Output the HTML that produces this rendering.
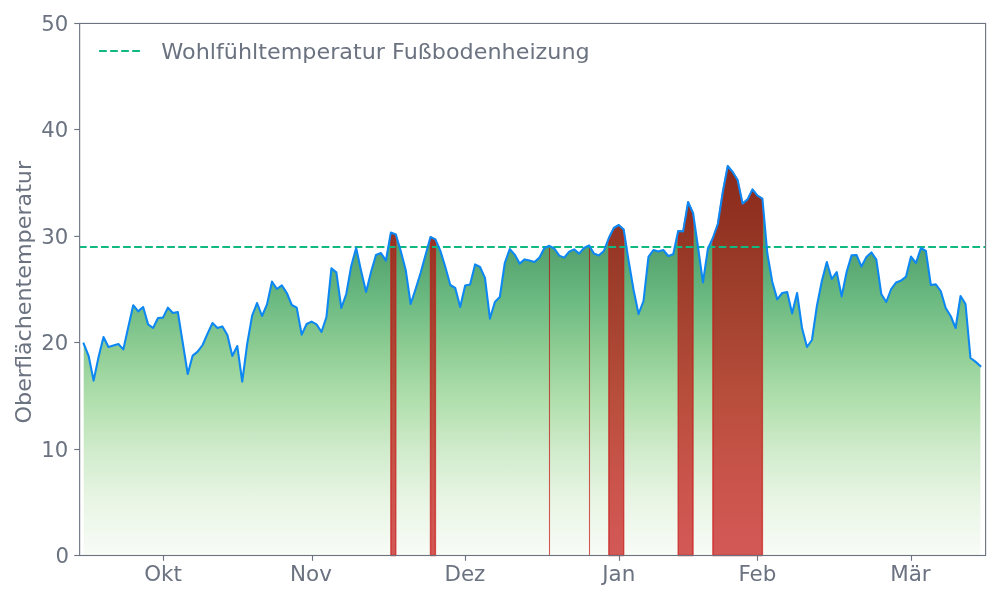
<!DOCTYPE html>
<html lang="de"><head><meta charset="utf-8"><title>Oberflächentemperatur</title>
<style>
html,body{margin:0;padding:0;background:#fff;}
svg{display:block;font-family:"DejaVu Sans","Liberation Sans",sans-serif;font-size:22.22px;fill:#6b7280;}
</style></head><body>
<svg width="1000" height="600" viewBox="0 0 1000 600">
<defs>
<linearGradient id="gg" gradientUnits="userSpaceOnUse" x1="0" y1="555.5" x2="0" y2="23.45">
<stop offset="0.0006" stop-color="#f7fcf5"/>
<stop offset="0.0141" stop-color="#f6fbf5"/>
<stop offset="0.1043" stop-color="#e8f5e4"/>
<stop offset="0.1983" stop-color="#d0ebcc"/>
<stop offset="0.2923" stop-color="#b0dfad"/>
<stop offset="0.3862" stop-color="#8fcd94"/>
<stop offset="0.4802" stop-color="#6bba82"/>
<stop offset="0.5479" stop-color="#5aa873"/>
<stop offset="0.6118" stop-color="#4e9868"/>
<stop offset="0.7321" stop-color="#3e845c"/>
<stop offset="1.0000" stop-color="#286446"/>
</linearGradient>
<linearGradient id="rg" gradientUnits="userSpaceOnUse" x1="0" y1="555.5" x2="0" y2="23.45">
<stop offset="0.0006" stop-color="#d35956"/>
<stop offset="0.0141" stop-color="#d25855"/>
<stop offset="0.1419" stop-color="#ca544b"/>
<stop offset="0.2923" stop-color="#b94e3c"/>
<stop offset="0.4802" stop-color="#a0402d"/>
<stop offset="0.6494" stop-color="#903020"/>
<stop offset="0.7321" stop-color="#892b1d"/>
<stop offset="1.0000" stop-color="#781e14"/>
</linearGradient>
</defs>
<rect width="1000" height="600" fill="#fff"/>
<polygon points="83.70,555.5 83.70,343.70 88.65,356.00 93.61,380.60 98.56,357.00 103.52,337.00 108.47,347.00 113.42,345.40 118.38,344.00 123.33,349.40 128.29,327.00 133.24,305.20 138.19,311.40 143.15,307.00 148.10,324.40 153.06,328.00 158.01,318.00 162.96,317.60 167.92,307.60 172.87,313.00 177.83,312.00 182.78,343.00 187.73,374.00 192.69,355.60 197.64,351.60 202.60,345.00 207.55,333.60 212.50,323.00 217.46,328.00 222.41,326.40 227.37,335.00 232.32,356.00 237.27,346.00 242.23,381.60 247.18,344.00 252.14,315.60 257.09,303.00 262.04,316.00 267.00,304.40 271.95,281.60 276.91,289.00 281.86,285.40 286.81,293.00 291.77,305.00 296.72,307.60 301.68,334.60 306.63,324.00 311.58,321.60 316.54,324.40 321.49,332.00 326.45,317.00 331.40,268.40 336.35,272.40 341.31,308.00 346.26,294.00 351.22,266.00 356.17,248.00 361.12,271.00 366.08,292.00 371.03,272.00 375.99,255.00 380.94,253.00 385.89,260.60 390.85,232.60 395.80,234.40 400.76,251.00 405.71,270.00 410.66,304.00 415.62,289.00 420.57,273.00 425.53,255.00 430.48,237.00 435.43,239.40 440.39,250.80 445.34,267.00 450.30,285.00 455.25,288.00 460.20,307.00 465.16,285.40 470.11,284.40 475.07,264.40 480.02,267.00 484.97,278.00 489.93,318.60 494.88,302.00 499.84,297.00 504.79,263.00 509.74,249.00 514.70,254.60 519.65,263.60 524.61,259.40 529.56,260.60 534.51,262.00 539.47,257.60 544.42,248.00 549.38,245.80 554.33,248.60 559.28,255.60 564.24,257.60 569.19,251.60 574.15,249.40 579.10,253.60 584.05,248.00 589.01,245.40 593.96,253.60 598.92,255.40 603.87,251.00 608.82,238.00 613.78,228.00 618.73,225.00 623.69,229.50 628.64,261.00 633.59,290.00 638.55,314.00 643.50,301.00 648.46,256.80 653.41,250.00 658.36,251.60 663.32,250.00 668.27,256.00 673.23,254.20 678.18,231.00 683.13,231.40 688.09,202.00 693.04,213.00 698.00,247.00 702.95,282.40 707.90,248.70 712.86,238.00 717.81,224.00 722.77,192.00 727.72,166.00 732.67,172.00 737.63,180.00 742.58,203.60 747.54,199.40 752.49,189.40 757.44,195.60 762.40,198.60 767.35,253.50 772.31,282.00 777.26,299.40 782.21,293.00 787.17,292.00 792.12,313.40 797.08,293.00 802.03,328.00 806.98,347.00 811.94,340.00 816.89,306.00 821.85,281.00 826.80,262.00 831.75,279.00 836.71,272.00 841.66,296.40 846.62,272.00 851.57,255.40 856.52,255.00 861.48,266.60 866.43,257.00 871.39,252.40 876.34,259.60 881.29,294.00 886.25,302.00 891.20,289.00 896.16,282.40 901.11,280.60 906.06,276.60 911.02,256.60 915.97,263.00 920.93,248.00 925.88,251.00 930.83,285.00 935.79,284.40 940.74,291.00 945.70,308.00 950.65,316.00 955.60,328.00 960.56,296.00 965.51,304.00 970.47,358.00 975.42,361.60 980.37,366.00 980.37,555.5" fill="url(#gg)"/>
<g fill="url(#rg)" stroke="rgba(200,20,20,0.68)" stroke-width="1.4" stroke-linejoin="round"><polygon points="390.85,555.5 390.85,232.60 395.80,234.40 395.80,555.5"/><polygon points="430.48,555.5 430.48,237.00 435.43,239.40 435.43,555.5"/><polygon points="608.82,555.5 608.82,238.00 613.78,228.00 618.73,225.00 623.69,229.50 623.69,555.5"/><polygon points="678.18,555.5 678.18,231.00 683.13,231.40 688.09,202.00 693.04,213.00 693.04,555.5"/><polygon points="712.86,555.5 712.86,238.00 717.81,224.00 722.77,192.00 727.72,166.00 732.67,172.00 737.63,180.00 742.58,203.60 747.54,199.40 752.49,189.40 757.44,195.60 762.40,198.60 762.40,555.5"/></g>
<g stroke="url(#rg)" stroke-width="1.1"><line x1="549.5" x2="549.5" y1="555.5" y2="245.80"/><line x1="589.5" x2="589.5" y1="555.5" y2="245.40"/></g>
<line x1="79.65" x2="985.6" y1="247" y2="247" stroke="#10b981" stroke-width="2.08" stroke-dasharray="7.7 3.33" stroke-dashoffset="0.7"/>
<polyline points="83.70,343.70 88.65,356.00 93.61,380.60 98.56,357.00 103.52,337.00 108.47,347.00 113.42,345.40 118.38,344.00 123.33,349.40 128.29,327.00 133.24,305.20 138.19,311.40 143.15,307.00 148.10,324.40 153.06,328.00 158.01,318.00 162.96,317.60 167.92,307.60 172.87,313.00 177.83,312.00 182.78,343.00 187.73,374.00 192.69,355.60 197.64,351.60 202.60,345.00 207.55,333.60 212.50,323.00 217.46,328.00 222.41,326.40 227.37,335.00 232.32,356.00 237.27,346.00 242.23,381.60 247.18,344.00 252.14,315.60 257.09,303.00 262.04,316.00 267.00,304.40 271.95,281.60 276.91,289.00 281.86,285.40 286.81,293.00 291.77,305.00 296.72,307.60 301.68,334.60 306.63,324.00 311.58,321.60 316.54,324.40 321.49,332.00 326.45,317.00 331.40,268.40 336.35,272.40 341.31,308.00 346.26,294.00 351.22,266.00 356.17,248.00 361.12,271.00 366.08,292.00 371.03,272.00 375.99,255.00 380.94,253.00 385.89,260.60 390.85,232.60 395.80,234.40 400.76,251.00 405.71,270.00 410.66,304.00 415.62,289.00 420.57,273.00 425.53,255.00 430.48,237.00 435.43,239.40 440.39,250.80 445.34,267.00 450.30,285.00 455.25,288.00 460.20,307.00 465.16,285.40 470.11,284.40 475.07,264.40 480.02,267.00 484.97,278.00 489.93,318.60 494.88,302.00 499.84,297.00 504.79,263.00 509.74,249.00 514.70,254.60 519.65,263.60 524.61,259.40 529.56,260.60 534.51,262.00 539.47,257.60 544.42,248.00 549.38,245.80 554.33,248.60 559.28,255.60 564.24,257.60 569.19,251.60 574.15,249.40 579.10,253.60 584.05,248.00 589.01,245.40 593.96,253.60 598.92,255.40 603.87,251.00 608.82,238.00 613.78,228.00 618.73,225.00 623.69,229.50 628.64,261.00 633.59,290.00 638.55,314.00 643.50,301.00 648.46,256.80 653.41,250.00 658.36,251.60 663.32,250.00 668.27,256.00 673.23,254.20 678.18,231.00 683.13,231.40 688.09,202.00 693.04,213.00 698.00,247.00 702.95,282.40 707.90,248.70 712.86,238.00 717.81,224.00 722.77,192.00 727.72,166.00 732.67,172.00 737.63,180.00 742.58,203.60 747.54,199.40 752.49,189.40 757.44,195.60 762.40,198.60 767.35,253.50 772.31,282.00 777.26,299.40 782.21,293.00 787.17,292.00 792.12,313.40 797.08,293.00 802.03,328.00 806.98,347.00 811.94,340.00 816.89,306.00 821.85,281.00 826.80,262.00 831.75,279.00 836.71,272.00 841.66,296.40 846.62,272.00 851.57,255.40 856.52,255.00 861.48,266.60 866.43,257.00 871.39,252.40 876.34,259.60 881.29,294.00 886.25,302.00 891.20,289.00 896.16,282.40 901.11,280.60 906.06,276.60 911.02,256.60 915.97,263.00 920.93,248.00 925.88,251.00 930.83,285.00 935.79,284.40 940.74,291.00 945.70,308.00 950.65,316.00 955.60,328.00 960.56,296.00 965.51,304.00 970.47,358.00 975.42,361.60 980.37,366.00" fill="none" stroke="#0d87f2" stroke-width="2.08" stroke-linejoin="round" stroke-linecap="square"/>
<g stroke="#6b7280" stroke-width="1.11" fill="none">
<rect x="79.65" y="23.45" width="905.95" height="532.05"/>
<line x1="74.25" x2="79.65" y1="555.5" y2="555.5"/><line x1="74.25" x2="79.65" y1="449.5" y2="449.5"/><line x1="74.25" x2="79.65" y1="342.5" y2="342.5"/><line x1="74.25" x2="79.65" y1="236.4" y2="236.4"/><line x1="74.25" x2="79.65" y1="129.5" y2="129.5"/><line x1="74.25" x2="79.65" y1="23.5" y2="23.5"/><line x1="163.5" x2="163.5" y1="555.5" y2="560.80"/><line x1="312.5" x2="312.5" y1="555.5" y2="560.80"/><line x1="465.5" x2="465.5" y1="555.5" y2="560.80"/><line x1="619.5" x2="619.5" y1="555.5" y2="560.80"/><line x1="757.5" x2="757.5" y1="555.5" y2="560.80"/><line x1="911.5" x2="911.5" y1="555.5" y2="560.80"/>
</g>
<g font-size="20.83"><text transform="translate(69.05 563.15) scale(1.02 1)" text-anchor="end">0</text><text transform="translate(68.25 457.15) scale(1.02 1)" text-anchor="end">10</text><text transform="translate(68.25 350.15) scale(1.02 1)" text-anchor="end">20</text><text transform="translate(68.25 244.05) scale(1.02 1)" text-anchor="end">30</text><text transform="translate(68.25 137.15) scale(1.02 1)" text-anchor="end">40</text><text transform="translate(68.25 31.15) scale(1.02 1)" text-anchor="end">50</text><text transform="translate(163.10 580.8) scale(1.03 1)" text-anchor="middle">Okt</text><text transform="translate(310.90 580.8) scale(1.03 1)" text-anchor="middle">Nov</text><text transform="translate(464.90 580.8) scale(1.03 1)" text-anchor="middle">Dez</text><text transform="translate(618.70 580.8) scale(1.03 1)" text-anchor="middle">Jan</text><text transform="translate(757.40 580.8) scale(1.03 1)" text-anchor="middle">Feb</text><text transform="translate(910.40 580.8) scale(1.03 1)" text-anchor="middle">Mär</text></g>
<text transform="translate(30.6 423.4) rotate(-90) scale(1 0.945)">Oberflächentemperatur</text>
<line x1="99.1" x2="140.8" y1="51" y2="51" stroke="#10b981" stroke-width="2.08" stroke-dasharray="7.7 3.33"/>
<text transform="translate(161.3 58.7) scale(1.003 0.945)">Wohlfühltemperatur Fußbodenheizung</text>
</svg>
</body></html>
